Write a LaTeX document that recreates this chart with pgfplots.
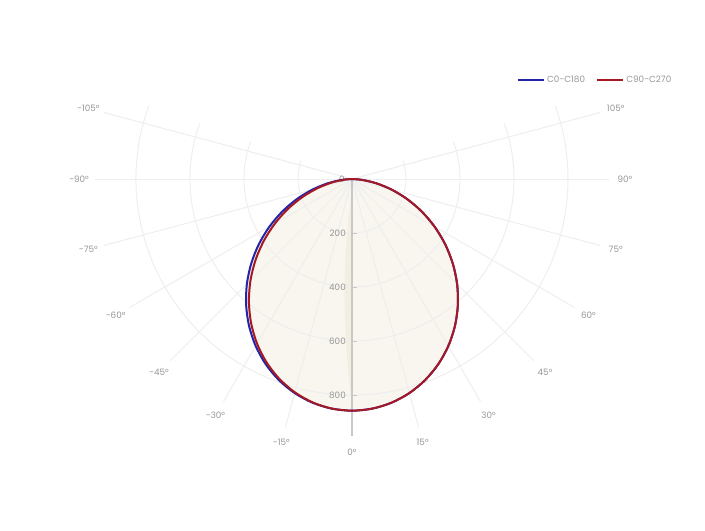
\documentclass[border=0pt]{standalone}
\usepackage{pgfplots}
\pgfplotsset{compat=1.18}
\usepackage{pgfplotstable}
\usepackage{fontspec}
\setmainfont{Poppins}

\definecolor{cblue}{RGB}{36,36,170}
\definecolor{cred}{RGB}{165,25,35}
\definecolor{gridc}{RGB}{238,238,238}
\definecolor{txtc}{RGB}{150,150,150}
\definecolor{fillc}{RGB}{248,246,239}
\definecolor{lensc}{RGB}{242,238,224}
\definecolor{axc}{RGB}{200,200,200}

% luminous intensity (cd) against angle (deg), 0 = straight down
\pgfplotstableread{
a I
-90 0
-85 37.8
-80 91.3
-75 152.1
-70 217.3
-65 284.9
-60 353.3
-55 421.2
-50 487.3
-45 550.6
-40 609.9
-35 664.6
-30 713.7
-25 756.5
-20 792.3
-15 820.8
-10 841.4
-5 853.8
0 858
5 853.8
10 841.4
15 820.8
20 792.3
25 756.5
30 713.7
35 664.6
40 609.9
45 550.6
50 487.3
55 421.2
60 353.3
65 284.9
70 217.3
75 152.1
80 91.3
85 37.8
90 0
}\czero

\pgfplotstableread{
a I
-90 0
-85 29.6
-80 76.6
-75 132.9
-70 195.2
-65 261.4
-60 329.7
-55 398.4
-50 466.2
-45 531.8
-40 593.9
-35 651.5
-30 703.5
-25 749.1
-20 787.4
-15 817.9
-10 840.1
-5 853.5
0 858
5 853.8
10 841.4
15 820.8
20 792.3
25 756.5
30 713.7
35 664.6
40 609.9
45 550.6
50 487.3
55 421.2
60 353.3
65 284.9
70 217.3
75 152.1
80 91.3
85 37.8
90 0
}\cninety

\tikzset{lbl/.style={text=txtc, font=\fontsize{6.6}{8}\selectfont, inner sep=0pt}}

\begin{document}
\begin{tikzpicture}
\begin{axis}[
    x=0.2025pt, y=0.2025pt,
    xmin=-1303.7, xmax=1307.4, ymin=-1300, ymax=663,
    hide axis, clip=false,
    data cs=polar,
    legend columns=2,
    legend style={at={(0.962,0.868)}, anchor=north east, draw=none, fill=none,
        font=\fontsize{6.6}{8}\selectfont, text=txtc,
        /tikz/every even column/.append style={column sep=6pt}},
    legend image code/.code={\draw[#1, line width=1.5pt] (0pt,0pt) -- (19.5pt,0pt);},
]
% filled areas
\addplot[fill=fillc, draw=none, forget plot] table[x expr=\thisrow{a}-90, y=I] {\czero};
\addplot[fill=fillc, draw=none, forget plot] table[x expr=\thisrow{a}-90, y=I] {\cninety};
\fill[lensc] (axis cs:0,-40) .. controls (axis cs:-36,-280) and (axis cs:-36,-580) .. (axis cs:0,-830) -- cycle;

% grid
\pgfplotsinvokeforeach{200,400,600,800}{
  \draw[gridc, line width=0.75pt] (axis cs:{#1*sin(-110)},{-#1*cos(-110)}) arc[start angle=-200, end angle=20, radius=#1*0.2025pt];
}
\pgfplotsinvokeforeach{-105,-90,...,105}{
  \draw[gridc, line width=0.75pt] (axis cs:0,0) -- (axis cs:{952*sin(#1)},{-952*cos(#1)});
}

% radial axis
\draw[axc, line width=0.9pt] (axis cs:0,0) -- (axis cs:0,-952);
\pgfplotsinvokeforeach{200,400,600,800}{
  \draw[axc, line width=0.75pt] (axis cs:0,-#1) -- (axis cs:18.5,-#1);
  \node[lbl, anchor=east] at (axis cs:-22,-#1) {#1};
}
\node[lbl, anchor=east] at (axis cs:-26,0) {0};

% angular labels
\node[lbl] at (axis cs:0,-1011) {0°};
\pgfplotsinvokeforeach{15,30,...,105}{
  \node[lbl] at (axis cs:{1011*sin(#1)},{-1011*cos(#1)}) {#1°};
  \node[lbl] at (axis cs:{-1011*sin(#1)},{-1011*cos(#1)}) {−#1°};
}

% curves
\addplot[cblue, line width=1.5pt, smooth] table[x expr=\thisrow{a}-90, y=I] {\czero};
\addlegendentry{C0-C180}
\addplot[cred, line width=1.5pt, smooth] table[x expr=\thisrow{a}-90, y=I] {\cninety};
\addlegendentry{C90-C270}

\coordinate (sw) at (rel axis cs:0,0);
\coordinate (ne) at (rel axis cs:1,1);
\end{axis}
\pgfresetboundingbox
\path[use as bounding box] (sw) rectangle (ne);
\end{tikzpicture}
\end{document}
